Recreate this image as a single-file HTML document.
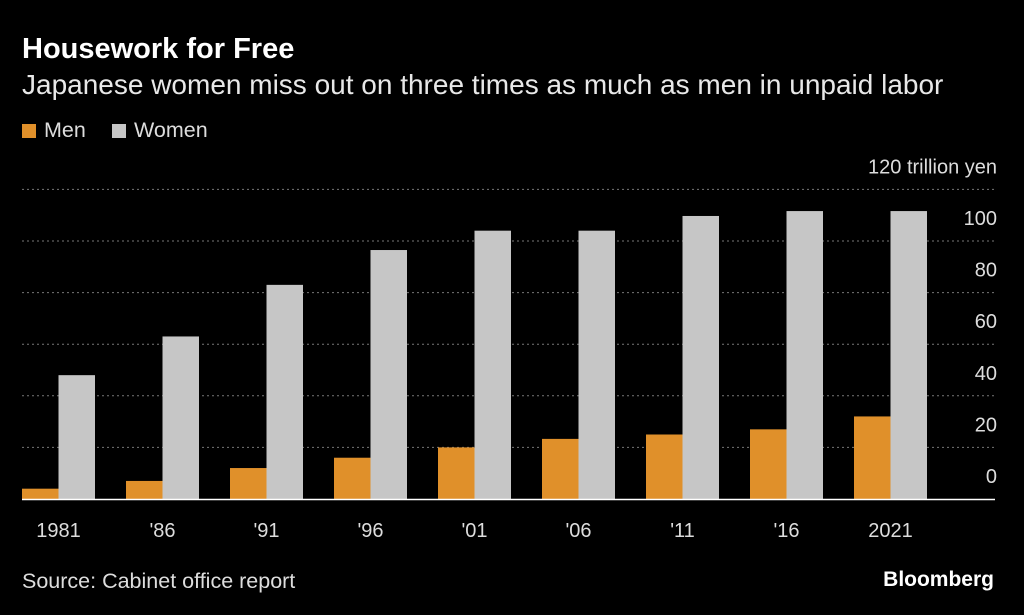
<!DOCTYPE html>
<html><head><meta charset="utf-8"><style>
body{margin:0;background:#000;width:1024px;height:615px;overflow:hidden;font-family:"Liberation Sans",sans-serif;color:#fff}
#t{position:absolute;left:22px;top:33px;font-size:29px;font-weight:bold}
#s{position:absolute;left:22px;top:69px;font-size:28px;color:#e8e8e8}
.lg{position:absolute;top:118px;font-size:21.5px;color:#ddd}
.sw{display:inline-block;width:14px;height:14px;margin-right:8px;vertical-align:-1px}
#src{position:absolute;left:22px;top:569px;font-size:21.5px;color:#ddd}
#bb{position:absolute;right:30px;top:568px;font-size:21px;font-weight:bold}
svg{position:absolute;left:0;top:0}
</style></head><body>
<div id="t">Housework for Free</div>
<div id="s">Japanese women miss out on three times as much as men in unpaid labor</div>
<div class="lg" style="left:22px"><span class="sw" style="background:#e0902a"></span>Men</div>
<div class="lg" style="left:112px"><span class="sw" style="background:#c6c6c6"></span>Women</div>
<svg id="c" width="1024" height="615"></svg>
<div id="src">Source: Cabinet office report</div>
<div id="bb">Bloomberg</div>
<script>
const categories=["1981","'86","'91","'96","'01","'06","'11","'16","2021"];
const men=[4,7,12,16,20,23.3,25,27,32];
const women=[48,63,83,96.5,104,104,109.7,111.6,111.6];
const ticks=[0,20,40,60,80,100,120];
const svg=document.getElementById('c');const NS='http://www.w3.org/2000/svg';
const y=v=>499-v*2.58;const x0=i=>22+i*104;
function mk(t,a){const e=document.createElementNS(NS,t);for(const k in a)e.setAttribute(k,a[k]);svg.appendChild(e);return e;}
ticks.forEach(v=>{
 if(v>0){const l=mk('line',{x1:22,x2:995,y1:y(v),y2:y(v),stroke:'#777','stroke-dasharray':'2,3'});
 
 }
 const t=mk('text',{x:997,y:y(v)-16,'text-anchor':'end',fill:'#ddd','font-size':20});
 t.textContent=v===120?'120 trillion yen':v;
 
 
});
categories.forEach((c,i)=>{
 const m=mk('rect',{x:x0(i),y:y(men[i]),width:36.5,height:499-y(men[i]),fill:'#e0902a'});
 
 
 const w=mk('rect',{x:x0(i)+36.5,y:y(women[i]),width:36.5,height:499-y(women[i]),fill:'#c6c6c6'});
 
 
 const t=mk('text',{x:x0(i)+36.5,y:537,'text-anchor':'middle',fill:'#ddd','font-size':20});
 t.textContent=c;
 
 
});
const b=mk('line',{x1:22,x2:995,y1:499.5,y2:499.5,stroke:'#fff','stroke-width':1.5});


</script>
</body></html>
